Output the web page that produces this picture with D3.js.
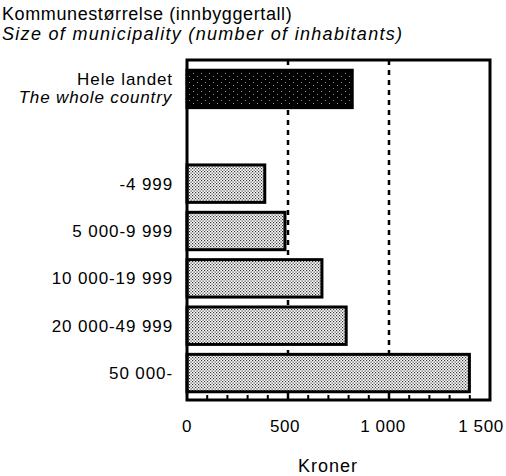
<!DOCTYPE html>
<html>
<head>
<meta charset="utf-8">
<script src="https://cdn.jsdelivr.net/npm/d3@7"></script>
<style>
  body { margin: 0; background: #fff; }
  svg { font-family: "Liberation Sans", Arial, sans-serif; }
</style>
</head>
<body>
<svg width="506" height="476"></svg>
<script>
const width = 506,
    height = 476,
    margin = ({ top: 60, right: 16, bottom: 76, left: 187 });

// data
const categories = ["Hele landet", "", "-4 999", "5 000-9 999", "10 000-19 999", "20 000-49 999", "50 000-"];
const subLabels = ["The whole country", "", "", "", "", "", ""];
const values = [818, null, 385, 485, 668, 788, 1398];
const tickValues = [0, 500, 1000, 1500];
const tickLabels = ["0", "500", "1 000", "1 500"];
const gridValues = [500, 1000];

const svg = d3.select("svg");

const defs = svg.append("defs");
const light = defs.append("pattern")
    .attr("id", "light")
    .attr("patternUnits", "userSpaceOnUse")
    .attr("width", 3).attr("height", 3);
light.append("rect").attr("width", 3).attr("height", 3).attr("fill", "#fff");
light.append("rect").attr("x", 0).attr("y", 0).attr("width", 1.2).attr("height", 1.2).attr("fill", "#333");
light.append("rect").attr("x", 1.5).attr("y", 1.5).attr("width", 1.2).attr("height", 1.2).attr("fill", "#333");

const dark = defs.append("pattern")
    .attr("id", "dark")
    .attr("patternUnits", "userSpaceOnUse")
    .attr("width", 8).attr("height", 6);
dark.append("rect").attr("width", 8).attr("height", 6).attr("fill", "#000");
dark.append("rect").attr("x", 1).attr("y", 1).attr("width", 1).attr("height", 1).attr("fill", "#999");
dark.append("rect").attr("x", 5).attr("y", 4).attr("width", 1).attr("height", 1).attr("fill", "#888");

const x = d3.scaleLinear()
    .domain([0, 1500])
    .range([margin.left, width - margin.right]);

// tick labels sit on a slightly narrower scale in the original
const xLabel = d3.scaleLinear()
    .domain([0, 1500])
    .range([margin.left, 481]);

const y = d3.scaleBand()
    .domain(categories.map((d, i) => i))
    .range([65.5, 396.5])
    .paddingInner(0.21)
    .paddingOuter(0.1);

// title
svg.append("text")
    .attr("x", 2).attr("y", 20)
    .attr("font-size", 18).attr("letter-spacing", 0.6)
    .text("Kommunestørrelse (innbyggertall)");
svg.append("text")
    .attr("x", 2).attr("y", 40)
    .attr("font-size", 18).attr("font-style", "italic").attr("letter-spacing", 1.3)
    .text("Size of municipality (number of inhabitants)");

// dashed grid lines
svg.append("g")
    .selectAll("line")
    .data(gridValues)
    .join("line")
    .attr("x1", d => x(d)).attr("x2", d => x(d))
    .attr("y1", margin.top).attr("y2", height - margin.bottom)
    .attr("stroke", "#000")
    .attr("stroke-width", 2.5)
    .attr("stroke-dasharray", "5,5");

// bars
svg.append("g")
    .selectAll("rect")
    .data(values.map((v, i) => ({ i, v })).filter(d => d.v !== null))
    .join("rect")
    .attr("x", x(0))
    .attr("y", d => y(d.i))
    .attr("width", d => x(d.v) - x(0))
    .attr("height", y.bandwidth())
    .attr("fill", d => d.i === 0 ? "url(#dark)" : "url(#light)")
    .attr("stroke", "#000")
    .attr("stroke-width", 3);

// frame
svg.append("rect")
    .attr("x", margin.left).attr("y", margin.top)
    .attr("width", width - margin.right - margin.left)
    .attr("height", height - margin.bottom - margin.top)
    .attr("fill", "none")
    .attr("stroke", "#000")
    .attr("stroke-width", 3);

// minor ticks along bottom
svg.append("g")
    .selectAll("line")
    .data(d3.range(100, 1500, 100))
    .join("line")
    .attr("x1", d => x(d)).attr("x2", d => x(d))
    .attr("y1", height - margin.bottom - 5)
    .attr("y2", height - margin.bottom)
    .attr("stroke", "#000")
    .attr("stroke-width", d => d % 500 === 0 ? 2.5 : 2);

// x axis labels
svg.append("g")
    .selectAll("text")
    .data(tickValues)
    .join("text")
    .attr("x", d => xLabel(d))
    .attr("y", 432)
    .attr("text-anchor", "middle")
    .attr("font-size", 17).attr("letter-spacing", 0.6)
    .text((d, i) => tickLabels[i]);

svg.append("text")
    .attr("x", 328)
    .attr("y", 472)
    .attr("text-anchor", "middle")
    .attr("font-size", 18).attr("letter-spacing", 1)
    .text("Kroner");

// category labels
const labels = svg.append("g")
    .selectAll("g")
    .data(categories.map((c, i) => ({ c, s: subLabels[i], i })).filter(d => d.c !== ""))
    .join("g");

labels.append("text")
    .attr("x", 173)
    .attr("y", d => d.s ? y(d.i) + 15 : y(d.i) + y.bandwidth() / 2 + 6)
    .attr("text-anchor", "end")
    .attr("font-size", 17).attr("letter-spacing", 0.9)
    .text(d => d.c);

labels.filter(d => d.s)
    .append("text")
    .attr("x", 172)
    .attr("y", d => y(d.i) + 33)
    .attr("text-anchor", "end")
    .attr("font-size", 17).attr("font-style", "italic").attr("letter-spacing", 0.85)
    .text(d => d.s);
</script>
</body>
</html>
